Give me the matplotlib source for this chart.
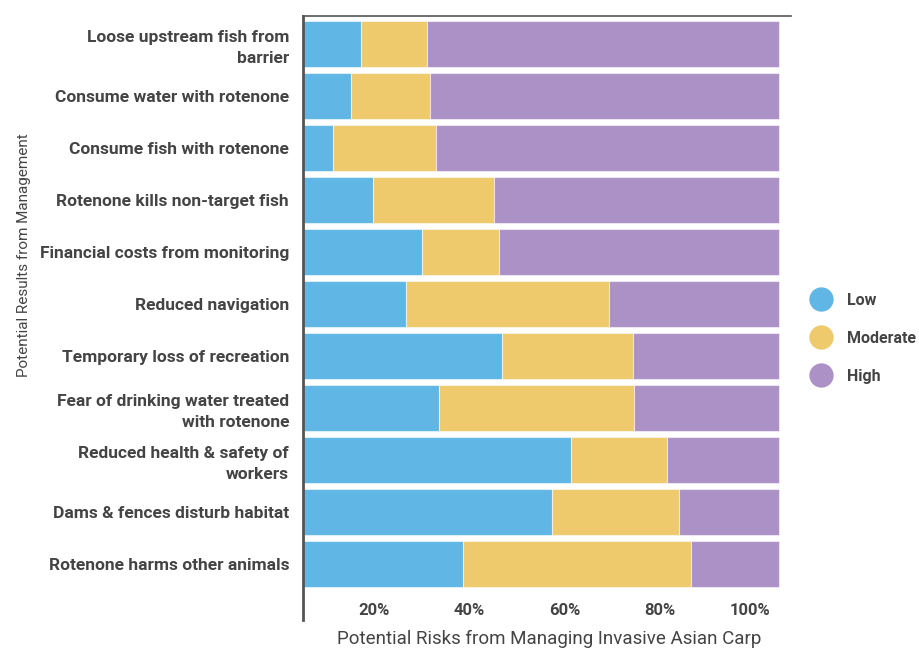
import matplotlib
matplotlib.use("Agg")
import matplotlib.pyplot as plt
import matplotlib.transforms as mtransforms
from matplotlib.lines import Line2D
import numpy as np

categories = [
    "Loose upstream fish from\nbarrier",
    "Consume water with rotenone",
    "Consume fish with rotenone",
    "Rotenone kills non-target fish",
    "Financial costs from monitoring",
    "Reduced navigation",
    "Temporary loss of recreation",
    "Fear of drinking water treated\nwith rotenone",
    "Reduced health & safety of\nworkers",
    "Dams & fences disturb habitat",
    "Rotenone harms other animals",
]
low = [12.2, 10.1, 6.4, 14.7, 25.0, 21.7, 41.7, 28.5, 56.2, 52.2, 33.7]
moderate = [13.8, 16.6, 21.5, 25.5, 16.1, 42.5, 27.7, 41.1, 20.2, 26.7, 47.7]
high = [74.0, 73.3, 72.1, 59.8, 58.9, 35.8, 30.6, 30.4, 23.6, 21.1, 18.6]
series_names = ["Low", "Moderate", "High"]
colors = ["#60b6e4", "#eeca6c", "#ac91c6"]
x_ticks = [20, 40, 60, 80, 100]
x_tick_labels = ["20%", "40%", "60%", "80%", "100%"]

plt.rcParams["font.family"] = ["Roboto", "DejaVu Sans"]
text_color = "#444444"

fig = plt.figure(figsize=(9.2, 6.5), dpi=100)
ax = fig.add_axes([303 / 920, 1 - 620 / 650, (791 - 303) / 920, (620 - 15.7) / 650])

y = np.arange(len(categories))
left = np.zeros(len(categories))
for vals, name, c in zip([low, moderate, high], series_names, colors):
    ax.barh(y, vals, left=left, height=0.89, color=c, label=name,
            edgecolor=(1, 1, 1, 0.55), linewidth=0.8)
    left = left + np.array(vals)

ax.set_xlim(0, 102.5)
ax.set_ylim(11.08, -0.54)

ax.set_yticks(y)
ax.set_yticklabels(categories, fontsize=12.5, fontweight="bold", color=text_color,
                   linespacing=1.5)
ax.set_xticks(x_ticks)
ax.set_xticklabels(x_tick_labels, fontsize=12, fontweight="bold", color=text_color)
ax.tick_params(axis="y", length=0, pad=10)
ax.tick_params(axis="x", length=0, pad=-12.5)
offset = mtransforms.ScaledTranslation(-8.5 / 100, 0, fig.dpi_scale_trans)
for lbl in ax.get_xticklabels():
    lbl.set_horizontalalignment("right")
    lbl.set_transform(lbl.get_transform() + offset)

for s in ["right", "bottom"]:
    ax.spines[s].set_visible(False)
ax.spines["left"].set_linewidth(2.0)
ax.spines["left"].set_color("#555555")
ax.spines["top"].set_linewidth(1.2)
ax.spines["top"].set_color("#555555")

ax.set_xlabel("Potential Risks from Managing Invasive Asian Carp", fontsize=13.5,
              color=text_color, fontweight="normal")
ax.xaxis.set_label_coords(0.504, -0.017)
ax.set_ylabel("Potential Results from Management", fontsize=11, color=text_color,
              fontweight="normal")
ax.yaxis.set_label_coords(-0.558, 0.604)

handles = [Line2D([0], [0], marker="o", linestyle="none", markersize=16.5,
                  markerfacecolor=c, markeredgecolor=c) for c in colors]
fig.legend(handles, series_names, loc="center left", bbox_to_anchor=(809 / 920, 1 - 338.3 / 650),
           frameon=False, borderpad=0, borderaxespad=0, handlelength=1.45, handletextpad=0.95,
           labelspacing=1.45, prop={"size": 11.5, "weight": "bold"}, labelcolor=text_color)

fig.savefig("out.png", dpi=100)
